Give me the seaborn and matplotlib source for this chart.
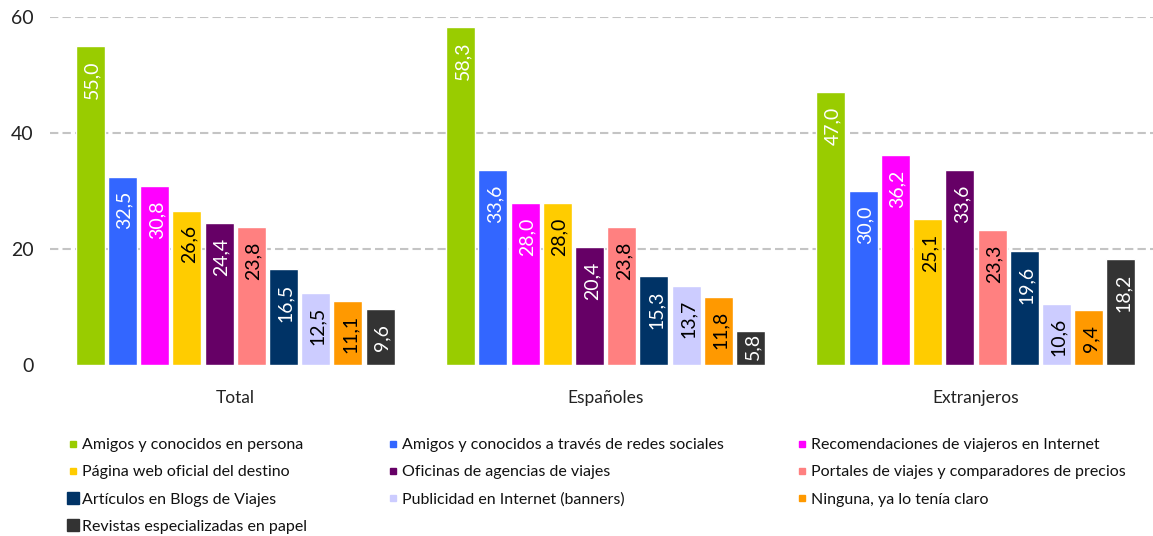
import matplotlib
matplotlib.use("Agg")
import matplotlib.pyplot as plt
from matplotlib.lines import Line2D
import seaborn as sns
import pandas as pd

# Survey data: information sources used to choose the destination (%)
groups = ["Total", "Españoles", "Extranjeros"]
sources = [
    "Amigos y conocidos en persona",
    "Amigos y conocidos a través de redes sociales",
    "Recomendaciones de viajeros en Internet",
    "Página web oficial del destino",
    "Oficinas de agencias de viajes",
    "Portales de viajes y comparadores de precios",
    "Artículos en Blogs de Viajes",
    "Publicidad en Internet (banners)",
    "Ninguna, ya lo tenía claro",
    "Revistas especializadas en papel",
]
total = [55.0, 32.5, 30.8, 26.6, 24.4, 23.8, 16.5, 12.5, 11.1, 9.6]
espanoles = [58.3, 33.6, 28.0, 28.0, 20.4, 23.8, 15.3, 13.7, 11.8, 5.8]
extranjeros = [47.0, 30.0, 36.2, 25.1, 33.6, 23.3, 19.6, 10.6, 9.4, 18.2]
y_ticks = [0, 20, 40, 60]

colors = ["#99CC00", "#3366FF", "#FF00FF", "#FFCC00", "#660066",
          "#FF8080", "#003366", "#CCCCFF", "#FF9900", "#333333"]
label_colors = ["white", "white", "white", "black", "white",
                "black", "white", "black", "black", "white"]
legend_marker_sizes = [5, 5, 5, 5, 5, 5, 9, 5, 5, 9]

rows = []
for g, vals in zip(groups, [total, espanoles, extranjeros]):
    for s, v in zip(sources, vals):
        rows.append({"grupo": g, "fuente": s, "valor": v})
df = pd.DataFrame(rows)

sns.set_theme(style="white")
plt.rcParams["font.family"] = ["Lato", "DejaVu Sans"]

fig = plt.figure(figsize=(11.53, 5.36), dpi=100)
ax = fig.add_axes([50 / 1153, 171 / 536, 1 - 50 / 1153, (536 - 17 - 171) / 536])

sns.barplot(data=df, x="grupo", y="valor", hue="fuente", order=groups,
            hue_order=sources, palette=colors, width=0.87, gap=0.1,
            saturation=1, errorbar=None, legend=False, ax=ax)

ax.set_xlim(-0.5, 2.478)
ax.set_ylim(0, 60)
ax.set_yticks(y_ticks)
ax.set_xlabel("")
ax.set_ylabel("")
for sp in ax.spines.values():
    sp.set_visible(False)
ax.tick_params(axis="y", length=0, pad=12, labelsize=14, labelcolor="#222222")
ax.tick_params(axis="x", length=0, pad=18, labelsize=12.5, labelcolor="#222222")
ax.set_axisbelow(True)
ax.yaxis.grid(True, color="#C4C4C4", linewidth=1.5, linestyle=(0, (4, 2)))
ax.xaxis.grid(False)
ax.yaxis.get_gridlines()[0].set_visible(False)

# Value labels inside each bar, rotated, clipped to the bar.
# Labels that would run below the baseline are lifted to sit on it instead.
renderer = fig.canvas.get_renderer()
for container, lc in zip(ax.containers, label_colors):
    for bar in container:
        h = bar.get_height()
        xc = bar.get_x() + bar.get_width() / 2
        txt = ax.annotate(f"{h:.1f}".replace(".", ","), (xc, h),
                          xytext=(1.5, -10.5), textcoords="offset points",
                          ha="center", va="top", rotation=90,
                          fontsize=14, color=lc, annotation_clip=False)
        bottom_px = ax.transData.transform((xc, 0))[1]
        if txt.get_window_extent(renderer).y0 < bottom_px + 4:
            txt.xy = (xc, 0)
            txt.set_position((1.5, 3.5))
            txt.set_va("bottom")
        txt.set_clip_path(bar)

# Legend laid out in three columns, filled row by row
col_x = [68 / 1153, 388 / 1153, 797 / 1153]
for c in range(3):
    idx = list(range(c, len(sources), 3))
    handles = [Line2D([], [], linestyle="none", marker="s",
                      markersize=legend_marker_sizes[i],
                      markerfacecolor=colors[i], markeredgecolor=colors[i])
               for i in idx]
    fig.legend(handles, [sources[i] for i in idx], loc="upper left",
               bbox_to_anchor=(col_x[c], 1 - 438 / 536), frameon=False,
               fontsize=11.5, handlelength=0.6, handletextpad=0.3,
               labelspacing=0.82, borderaxespad=0, borderpad=0,
               labelcolor="#111111")

fig.savefig("out.png", dpi=100)
